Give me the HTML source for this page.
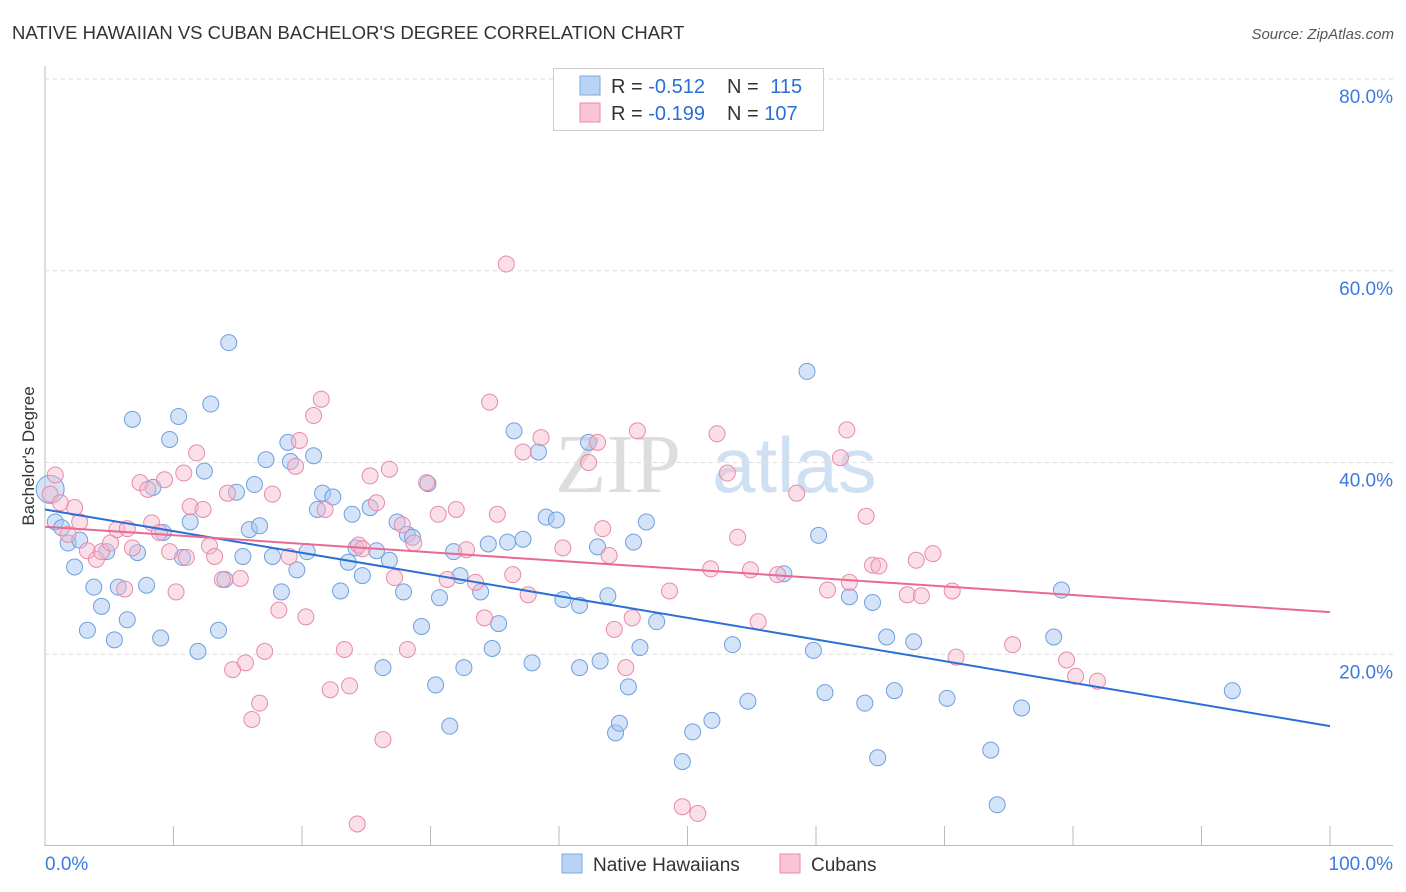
<!DOCTYPE html>
<html><head><meta charset="utf-8"><style>
body{margin:0;background:#fff;font-family:"Liberation Sans",sans-serif;}
svg{display:block}
</style></head><body>
<svg id="chart" width="1406" height="892">
<text x="12" y="39" font-size="18.5" fill="#333">NATIVE HAWAIIAN VS CUBAN BACHELOR'S DEGREE CORRELATION CHART</text>
<text x="1394" y="39" font-size="15" fill="#555" font-style="italic" text-anchor="end">Source: ZipAtlas.com</text>
<text x="34" y="456" font-size="17" fill="#333" text-anchor="middle" transform="rotate(-90 34 456)">Bachelor's Degree</text>
<g><text x="555" y="492" font-size="84" fill="#ddd" font-family="Liberation Serif,serif">ZIP</text><text x="712" y="492" font-size="78" fill="#cfe0f3">atlas</text></g>
<g id="grid"></g><g id="pts"></g><g id="lines"></g>
<g>
<rect x="553.5" y="68.5" width="270" height="62" fill="#fff" stroke="#ccc"/>
<rect x="580" y="76" width="20" height="19" fill="#b9d3f5" stroke="#7aa7e0"/>
<rect x="580" y="103" width="20" height="19" fill="#fac4d5" stroke="#e88aa8"/>
<text x="611" y="93" font-size="20" fill="#333">R = <tspan fill="#2a6fd6">-0.512</tspan></text>
<text x="727" y="93" font-size="20" fill="#333">N = <tspan fill="#2a6fd6" dx="6">115</tspan></text>
<text x="611" y="120" font-size="20" fill="#333">R = <tspan fill="#2a6fd6">-0.199</tspan></text>
<text x="727" y="120" font-size="20" fill="#333">N = <tspan fill="#2a6fd6">107</tspan></text>
</g>
<g>
<rect x="562" y="854" width="20" height="19" fill="#b9d3f5" stroke="#7aa7e0"/>
<text x="593" y="871" font-size="19" fill="#333">Native Hawaiians</text>
<rect x="780" y="854" width="20" height="19" fill="#fac4d5" stroke="#e88aa8"/>
<text x="811" y="871" font-size="19" fill="#333">Cubans</text>
</g>
</svg>
<script>
const yTicks=[20,40,60,80];
const xTickLabels=["0.0%","100.0%"];
const blueX=[0.8,1.3,1.8,2.3,2.7,3.3,3.8,4.4,4.8,5.4,5.7,6.4,6.8,7.2,7.9,8.4,9.0,9.2,9.7,10.4,10.7,11.3,11.9,12.4,12.9,13.5,14.0,14.3,14.9,15.4,15.9,16.3,16.7,17.2,17.7,18.4,18.9,19.1,19.6,20.4,20.9,21.2,21.6,22.4,23.0,23.6,23.9,24.2,24.7,25.3,25.8,26.3,26.8,27.4,27.9,28.2,28.6,29.3,29.8,30.4,30.7,31.5,31.8,32.3,32.6,33.9,34.5,34.8,35.3,36.0,36.5,37.2,37.9,38.4,39.0,39.8,40.3,41.6,41.6,42.3,43.0,43.2,43.8,44.4,44.7,45.4,45.8,46.3,46.8,47.6,49.6,50.4,51.9,53.5,54.7,57.5,59.3,59.8,60.2,60.7,62.6,63.8,64.4,64.8,65.5,66.1,67.6,70.2,73.6,74.1,76.0,78.5,79.1,92.4,0.4];
const blueY=[33.8,33.2,31.6,29.1,31.9,22.5,27.0,25.0,30.7,21.5,27.0,23.6,44.5,30.6,27.2,37.4,21.7,32.7,42.4,44.8,30.1,33.8,20.3,39.1,46.1,22.5,27.8,52.5,36.9,30.2,33.0,37.7,33.4,40.3,30.2,26.5,42.1,40.1,28.8,30.7,40.7,35.1,36.8,36.4,26.6,29.6,34.6,31.1,28.2,35.3,30.8,18.6,29.8,33.8,26.5,32.5,32.2,22.9,37.8,16.8,25.9,12.5,30.7,28.2,18.6,26.5,31.5,20.6,23.2,31.7,43.3,32.0,19.1,41.1,34.3,34.0,25.7,18.6,25.1,42.1,31.2,19.3,26.1,11.8,12.8,16.6,31.7,20.7,33.8,23.4,8.8,11.9,13.1,21.0,15.1,28.4,49.5,20.4,32.4,16.0,26.0,14.9,25.4,9.2,21.8,16.2,21.3,15.4,10.0,4.3,14.4,21.8,26.7,16.2,37.2];
const pinkX=[0.8,0.4,1.2,1.8,2.3,2.7,3.3,4.0,4.4,5.1,5.6,6.2,6.8,7.4,8.0,8.3,8.9,9.3,9.7,10.2,10.8,11.3,11.8,12.3,12.8,13.2,13.8,14.2,14.6,15.2,15.6,16.1,16.7,17.1,17.7,18.2,19.0,19.5,19.8,20.3,20.9,21.5,21.8,22.2,23.3,23.7,24.4,24.7,25.3,25.8,26.3,26.8,27.2,27.8,28.2,28.7,29.7,30.6,31.3,32.0,32.8,33.5,34.2,34.6,35.2,35.9,36.4,37.2,37.6,38.6,40.3,42.3,43.0,43.4,43.9,44.3,45.2,45.7,46.1,48.6,49.6,50.8,51.8,52.3,53.1,53.9,54.9,55.5,57.0,58.5,60.9,61.9,62.4,62.6,63.9,64.4,64.9,67.1,67.8,68.2,69.1,70.6,70.9,75.3,79.5,80.2,81.9,24.3,6.4,11.0];
const pinkY=[38.7,36.7,35.8,32.5,35.3,33.8,30.8,29.9,30.7,31.6,33.0,26.8,31.1,37.9,37.2,33.7,32.7,38.2,30.7,26.5,38.9,35.4,41.0,35.1,31.3,30.2,27.8,36.8,18.4,27.9,19.1,13.2,14.9,20.3,36.7,24.6,30.2,39.6,42.3,23.9,44.9,46.6,35.1,16.3,20.5,16.7,31.4,31.0,38.6,35.8,11.1,39.3,28.0,33.5,20.5,31.6,37.9,34.6,27.8,35.1,30.9,27.5,23.8,46.3,34.6,60.7,28.3,41.1,26.2,42.6,31.1,40.0,42.1,33.1,30.3,22.6,18.6,23.8,43.3,26.6,4.1,3.4,28.9,43.0,38.9,32.2,28.8,23.4,28.3,36.8,26.7,40.5,43.4,27.5,34.4,29.3,29.2,26.2,29.8,26.1,30.5,26.6,19.7,21.0,19.4,17.7,17.2,2.3,33.1,30.1];
const blueTrend=[35.1,12.5];
const pinkTrend=[33.3,24.4];
const NS="http://www.w3.org/2000/svg";
const X0=45,X1=1330,Y0=846,Y80=79;
const sx=v=>X0+(X1-X0)*v/100;
const sy=v=>Y0-(Y0-Y80)*v/80;
function mk(t,a,p){const e=document.createElementNS(NS,t);for(const k in a)e.setAttribute(k,a[k]);p.appendChild(e);return e;}
const grid=document.getElementById('grid');
mk('line',{x1:45,y1:66,x2:45,y2:846,stroke:'#bbb'},grid);
const xa=mk('line',{x1:45,y1:845.5,x2:1393,y2:845.5,stroke:'#bbb'},grid);


for(let i=0;i<=10;i++){const tk=mk('line',{x1:sx(i*10),y1:826,x2:sx(i*10),y2:846,stroke:'#bbb'},grid);

}
yTicks.forEach(v=>{const g=mk('line',{x1:45,y1:sy(v),x2:1393,y2:sy(v),stroke:'#ddd','stroke-dasharray':'4,4'},grid);


const t=mk('text',{x:1393,y:sy(v)+24,'font-size':19,fill:'#3b7be0','text-anchor':'end'},grid);t.textContent=v.toFixed(1)+'%';

});
xTickLabels.forEach((l,i)=>{const t=mk('text',{x:i?1393:45,y:870,'font-size':19,fill:'#3b7be0','text-anchor':i?'end':'start'},grid);t.textContent=l;

});
const pts=document.getElementById('pts');
blueX.forEach((x,i)=>{const big=(i===blueX.length-1);const c=mk('circle',{cx:sx(x),cy:sy(blueY[i]),r:big?14:8,fill:'#a9c8f0','fill-opacity':0.5,stroke:'#6f9fe0','stroke-width':1},pts);

});
pinkX.forEach((x,i)=>{const c=mk('circle',{cx:sx(x),cy:sy(pinkY[i]),r:8,fill:'#f7b7cb','fill-opacity':0.45,stroke:'#e88aa8','stroke-width':1},pts);

});
const lines=document.getElementById('lines');
const bl=mk('line',{x1:sx(0),y1:sy(blueTrend[0]),x2:sx(100),y2:sy(blueTrend[1]),stroke:'#2a6fd6','stroke-width':2},lines);


const pl=mk('line',{x1:sx(0),y1:sy(pinkTrend[0]),x2:sx(100),y2:sy(pinkTrend[1]),stroke:'#e86a93','stroke-width':2},lines);


</script>
</body></html>
